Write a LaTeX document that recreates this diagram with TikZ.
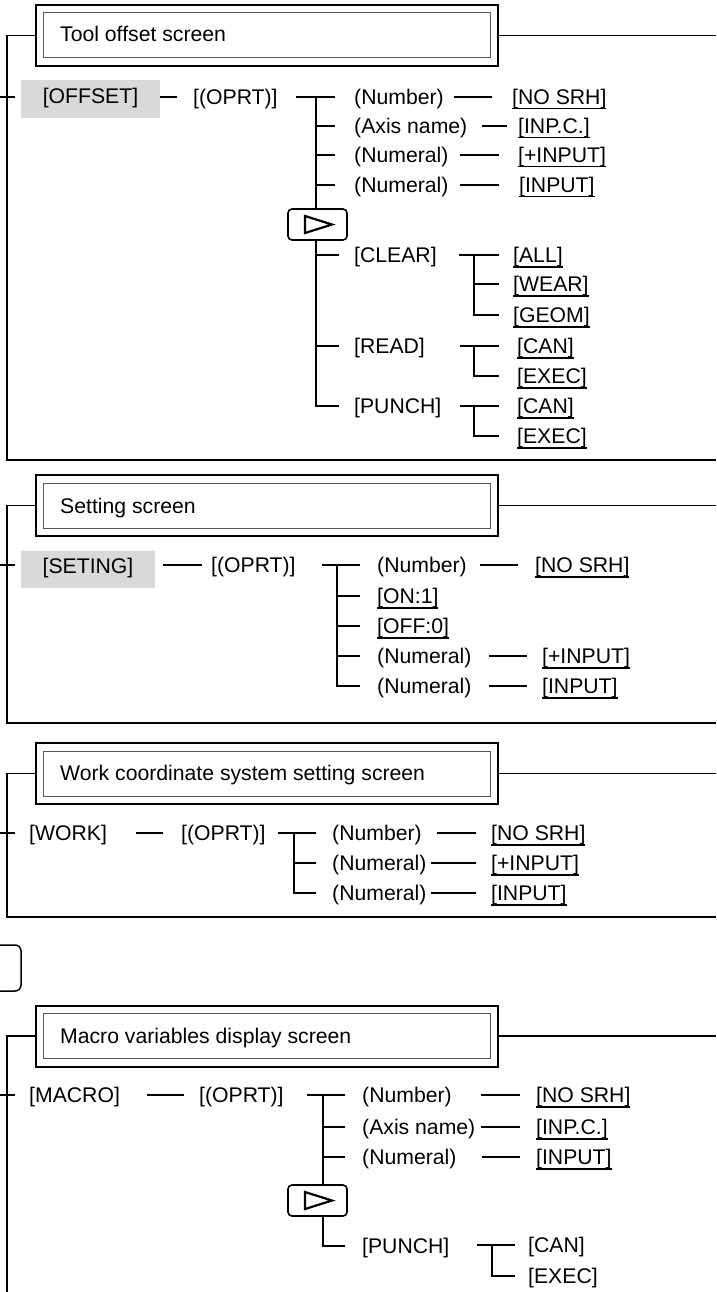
\documentclass[tikz,border=0pt]{standalone}
\usepackage{fontspec}
\setmainfont{Liberation Sans}
\newcommand\myul[1]{\setbox0\hbox{#1}\rlap{\rule[-5pt]{\wd0}{1.1pt}}\box0}
\begin{document}
\begin{tikzpicture}[x=1pt,y=-1pt,font=\fontsize{21.2}{25}\selectfont,
  t/.style={anchor=west,inner sep=0pt,text height=15pt,text depth=0pt},
  ln/.style={line width=1.5pt},
  fr/.style={line width=1.1pt},
  keyg/.style={fill=black!15,inner sep=0pt,text height=15pt,text depth=6pt},
  tout/.style={draw,line width=2pt,minimum width=462pt,minimum height=61pt,inner sep=0pt},
  tin/.style={draw=black!65,line width=1pt,minimum width=447pt,minimum height=45pt,inner sep=0pt},
  nxt/.style={draw,line width=1.6pt,rounded corners=4pt,minimum width=59pt,minimum height=31pt,inner sep=0pt},
  tri/.style={line width=2.2pt,line join=miter}]
\useasboundingbox (0,0) rectangle (716,1292);
\clip (0,0) rectangle (716,1292);

% ================= Section 1 =================
\node[tout] (T1) at (267,35.5) {};
\node[tin] (T1i) at (T1) {};
\node[t] (T1t) at (60,34) {Tool offset screen};
\draw[fr] (716,35.5) -- (T1.east);
\draw[fr] (T1.west) -| (7,460) -- (716,460);
\draw[ln] (0,97) -- (15,97);
\node[keyg,minimum width=139pt,minimum height=38pt] (K1) at (90.5,99.5) {[OFFSET]};
\node[t] (O1) at (193,97) {[(OPRT)]};
\draw[ln] (K1.east |- O1.west) -- ([xshift=-16pt]O1.west);
\node[t] (a1) at (354,97) {(Number)};
\node[t] (a2) at (354,126) {(Axis name)};
\node[t] (a3) at (354,155) {(Numeral)};
\node[t] (a4) at (354,185) {(Numeral)};
\node[t] (a5) at (354,255) {[CLEAR]};
\node[t] (a6) at (354,346) {[READ]};
\node[t] (a7) at (354,406) {[PUNCH]};
\draw[ln] ([xshift=18pt]O1.east) -- ([xshift=-19pt]a1.west);
\coordinate (b1) at (316,97);
\node[nxt] (N1) at (317.5,224.5) {};
\draw[tri] (N1.center) ++(-12.5,-8.5) -- ++(0,17) -- ++(27,-8.5) -- cycle;
\draw[ln] (b1) -- (b1 |- N1.north);
\draw[ln] (b1 |- N1.south) |- ([xshift=-15pt]a7.west);
\draw[ln] (b1 |- a2.west) -- ([xshift=-19pt]a2.west);
\draw[ln] (b1 |- a3.west) -- ([xshift=-19pt]a3.west);
\draw[ln] (b1 |- a4.west) -- ([xshift=-19pt]a4.west);
\draw[ln] (b1 |- a5.west) -- ([xshift=-15pt]a5.west);
\draw[ln] (b1 |- a6.west) -- ([xshift=-15pt]a6.west);
% second level
\node[t] (s1) at (512,97) {\myul{[NO SRH]}};
\node[t] (s2) at (518,126) {\myul{[INP.C.]}};
\node[t] (s3) at (518,155) {\myul{[+INPUT]}};
\node[t] (s4) at (519,185) {\myul{[INPUT]}};
\draw[ln] ([xshift=10pt]a1.east) -- ([xshift=-20pt]s1.west);
\draw[ln] ([xshift=15pt]a2.east) -- ([xshift=-11pt]s2.west);
\draw[ln] ([xshift=11pt]a3.east) -- ([xshift=-19pt]s3.west);
\draw[ln] ([xshift=11pt]a4.east) -- ([xshift=-20pt]s4.west);
\node[t] (c1) at (513,255) {\myul{[ALL]}};
\node[t] (c2) at (513,284) {\myul{[WEAR]}};
\node[t] (c3) at (513,315) {\myul{[GEOM]}};
\draw[ln] ([xshift=22pt]a5.east) -- ([xshift=-14pt]c1.west);
\coordinate (cb) at (474,255);
\draw[ln] (cb) |- ([xshift=-14pt]c3.west);
\draw[ln] (cb |- c2.west) -- ([xshift=-14pt]c2.west);
\node[t] (r1) at (517,346) {\myul{[CAN]}};
\node[t] (r2) at (517,376) {\myul{[EXEC]}};
\draw[ln] ([xshift=35pt]a6.east) -- ([xshift=-18pt]r1.west);
\coordinate (rb) at (474,346);
\draw[ln] (rb) |- ([xshift=-18pt]r2.west);
\node[t] (p1) at (517,406) {\myul{[CAN]}};
\node[t] (p2) at (517,436) {\myul{[EXEC]}};
\draw[ln] ([xshift=18pt]a7.east) -- ([xshift=-18pt]p1.west);
\coordinate (pb) at (474,406);
\draw[ln] (pb) |- ([xshift=-18pt]p2.west);

% ================= Section 2 =================
\node[tout] (T2) at (267,505.5) {};
\node[tin] (T2i) at (T2) {};
\node[t] (T2t) at (60,506) {Setting screen};
\draw[fr] (716,505.5) -- (T2.east);
\draw[fr] (T2.west) -| (7,723) -- (716,723);
\draw[ln] (0,565) -- (15,565);
\node[keyg,minimum width=134pt,minimum height=37pt] (K2) at (88,569) {[SETING]};
\node[t] (O2) at (211,565) {[(OPRT)]};
\draw[ln] ([xshift=8pt]K2.east |- O2.west) -- ([xshift=-9pt]O2.west);
\node[t] (e1) at (377,565) {(Number)};
\node[t] (e2) at (377,596) {\myul{[ON:1]}};
\node[t] (e3) at (377,626) {\myul{[OFF:0]}};
\node[t] (e4) at (377,656) {(Numeral)};
\node[t] (e5) at (377,686) {(Numeral)};
\draw[ln] ([xshift=26pt]O2.east) -- ([xshift=-17pt]e1.west);
\coordinate (b2) at (337,565);
\draw[ln] (b2) |- ([xshift=-17pt]e5.west);
\draw[ln] (b2 |- e2.west) -- ([xshift=-17pt]e2.west);
\draw[ln] (b2 |- e3.west) -- ([xshift=-17pt]e3.west);
\draw[ln] (b2 |- e4.west) -- ([xshift=-17pt]e4.west);
\node[t] (f1) at (535,565) {\myul{[NO SRH]}};
\node[t] (f4) at (542,656) {\myul{[+INPUT]}};
\node[t] (f5) at (542,686) {\myul{[INPUT]}};
\draw[ln] ([xshift=13pt]e1.east) -- ([xshift=-17pt]f1.west);
\draw[ln] ([xshift=17pt]e4.east) -- ([xshift=-15pt]f4.west);
\draw[ln] ([xshift=17pt]e5.east) -- ([xshift=-15pt]f5.west);

% ================= Section 3 =================
\node[tout] (T3) at (267,773.5) {};
\node[tin] (T3i) at (T3) {};
\node[t] (T3t) at (60,773) {Work coordinate system setting screen};
\draw[fr] (716,773.5) -- (T3.east);
\draw[fr] (T3.west) -| (7,917) -- (716,917);
\draw[ln] (0,833) -- (15,833);
\node[t] (K3) at (29,833) {[WORK]};
\node[t] (O3) at (181,833) {[(OPRT)]};
\draw[ln] ([xshift=29pt]K3.east) -- ([xshift=-18pt]O3.west);
\node[t] (w1) at (332,833) {(Number)};
\node[t] (w2) at (332,863) {(Numeral)};
\node[t] (w3) at (332,893) {(Numeral)};
\draw[ln] ([xshift=12pt]O3.east) -- ([xshift=-16pt]w1.west);
\coordinate (b3) at (294,833);
\draw[ln] (b3) |- ([xshift=-16pt]w3.west);
\draw[ln] (b3 |- w2.west) -- ([xshift=-16pt]w2.west);
\node[t] (x1) at (491,833) {\myul{[NO SRH]}};
\node[t] (x2) at (491,863) {\myul{[+INPUT]}};
\node[t] (x3) at (491,893) {\myul{[INPUT]}};
\draw[ln] ([xshift=15pt]w1.east) -- ([xshift=-15pt]x1.west);
\draw[ln] ([xshift=4pt]w2.east) -- ([xshift=-15pt]x2.west);
\draw[ln] ([xshift=4pt]w3.east) -- ([xshift=-15pt]x3.west);

% partial key at left edge
\draw[line width=1.5pt,rounded corners=6pt] (-30,945) rectangle (21,991);

% ================= Section 4 =================
\node[tout] (T4) at (267,1036) {};
\node[tin] (T4i) at (T4) {};
\node[t] (T4t) at (60,1036) {Macro variables display screen};
\draw[fr] (716,1036) -- (T4.east);
\draw[fr] (T4.west) -| (7,1300);
\draw[ln] (0,1095) -- (15,1095);
\node[t] (K4) at (29,1095) {[MACRO]};
\node[t] (O4) at (199,1095) {[(OPRT)]};
\draw[ln] ([xshift=27pt]K4.east) -- ([xshift=-15pt]O4.west);
\node[t] (m1) at (362,1095) {(Number)};
\node[t] (m2) at (362,1127) {(Axis name)};
\node[t] (m3) at (362,1157) {(Numeral)};
\node[t] (m4) at (362,1246) {[PUNCH]};
\draw[ln] ([xshift=23pt]O4.east) -- ([xshift=-17pt]m1.west);
\coordinate (b4) at (323,1095);
\node[nxt] (N4) at (317.5,1200.5) {};
\draw[tri] (N4.center) ++(-12.5,-8.5) -- ++(0,17) -- ++(27,-8.5) -- cycle;
\draw[ln] (b4) -- (b4 |- N4.north);
\draw[ln] (b4 |- N4.south) |- ([xshift=-17pt]m4.west);
\draw[ln] (b4 |- m2.west) -- ([xshift=-17pt]m2.west);
\draw[ln] (b4 |- m3.west) -- ([xshift=-17pt]m3.west);
\node[t] (y1) at (536,1095) {\myul{[NO SRH]}};
\node[t] (y2) at (536,1127) {\myul{[INP.C.]}};
\node[t] (y3) at (536,1157) {\myul{[INPUT]}};
\draw[ln] ([xshift=29pt]m1.east) -- ([xshift=-16pt]y1.west);
\draw[ln] ([xshift=6pt]m2.east) -- ([xshift=-16pt]y2.west);
\draw[ln] ([xshift=25pt]m3.east) -- ([xshift=-16pt]y3.west);
\node[t] (z1) at (528,1245) {[CAN]};
\node[t] (z2) at (528,1276) {[EXEC]};
\draw[ln] ([xshift=27pt]m4.east |- z1.west) -- ([xshift=-13pt]z1.west);
\coordinate (zb) at (492,1245);
\draw[ln] (zb) |- ([xshift=-13pt]z2.west);
\end{tikzpicture}
\end{document}
